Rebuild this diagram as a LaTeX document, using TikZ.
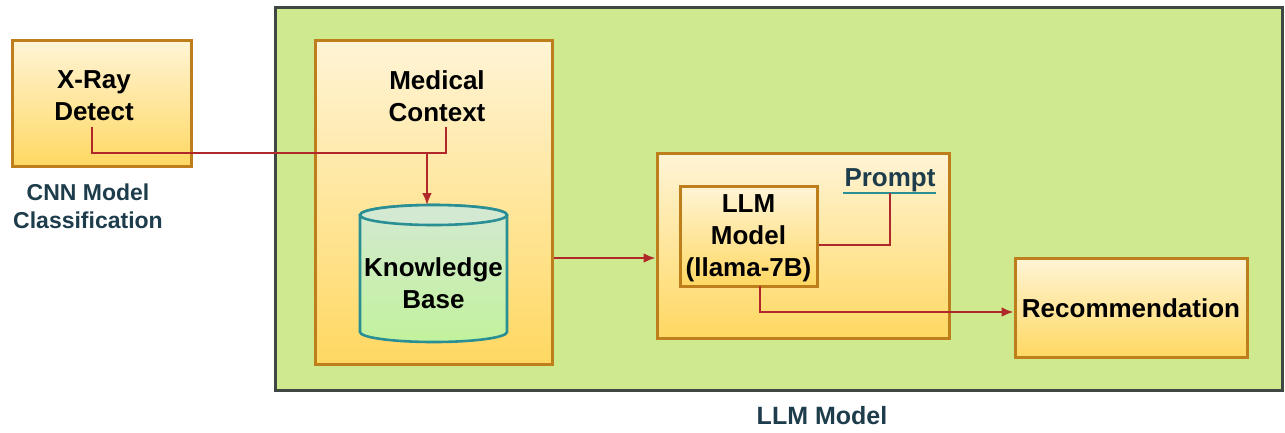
\documentclass[tikz,border=0pt]{standalone}
\usepackage{fontspec}
\setmainfont{Liberation Sans}
\usetikzlibrary{arrows.meta}
\definecolor{bgreen}{HTML}{CFE98E}
\definecolor{gborder}{HTML}{3F4644}
\definecolor{boxtop}{HTML}{FFF4D6}
\definecolor{boxbot}{HTML}{FFD862}
\definecolor{boxborder}{HTML}{BE7E1C}
\definecolor{conn}{HTML}{B0282A}
\definecolor{slate}{HTML}{1E3D4C}
\definecolor{teal}{HTML}{2A8F94}
\definecolor{cyltop}{HTML}{D3E9D2}
\definecolor{cylbot}{HTML}{C2F29C}
\definecolor{shadowc}{HTML}{B9B9A0}
\begin{document}
\begin{tikzpicture}[x=1pt,y=-1pt,
  box/.style={draw=boxborder,line width=3pt,top color=boxtop,bottom color=boxbot,inner sep=0pt},
  txt/.style={font=\fontsize{26}{32}\selectfont\bfseries,align=center,text=black},
  lbl/.style={font=\fontsize{23}{28}\selectfont\bfseries,align=center,text=slate},
  connline/.style={draw=conn,line width=2.6pt},
  arr/.style={connline,-{Latex[length=12pt,width=10pt]}}]
\useasboundingbox (0,0) rectangle (1285,432);
% green container
\node[draw=gborder,line width=3pt,fill=bgreen,minimum width=1007pt,minimum height=383pt,inner sep=0pt] (llmarea) at (778.5,198.5) {};
\node[lbl,font=\fontsize{25}{30}\selectfont\bfseries] (llmlabel) at (822,416) {LLM Model};
% X-ray
\node[box,minimum width=179pt,minimum height=126pt] (xray) at (101.5,103) {};
\node[txt] (xraytxt) at (94,96) {X-Ray\\Detect};
\node[lbl] (cnnlabel) at (88,206) {CNN Model\\Classification};
% Medical context
\node[box,minimum width=237pt,minimum height=324pt] (medical) at (433.5,202) {};
\node[txt] (medtxt) at (437,96) {Medical\\Context};
% Knowledge base cylinder
\shade[top color=cyltop,bottom color=cylbot,draw=teal,line width=2.6pt]
  (360,215) -- (360,332) arc[start angle=180,end angle=0,x radius=73.5,y radius=10]
  -- (507,215) arc[start angle=0,end angle=-180,x radius=73.5,y radius=10] -- cycle;
\draw[teal,line width=2.6pt,fill=cyltop] (433.5,215) ellipse[x radius=73.5,y radius=10];
\node[txt] (kb) at (433.5,283) {Knowledge\\Base};
\coordinate (kbtop) at (427,205);
% LLM outer
\node[box,minimum width=292pt,minimum height=185pt] (llmouter) at (803,245.5) {};
\node[box,minimum width=137pt,minimum height=100pt] (llminner) at (748.5,236) {};
\node[txt] (llmtxt) at (748.5,238) {LLM\\Model\\(llama-7B)};
\node[font=\fontsize{26}{32}\selectfont\bfseries,text=slate,inner sep=0pt] (prompt) at (890,180) {Prompt};
\draw[teal,line width=2.8pt] (843,193) -- (936,193) coordinate[pos=0.505] (promptline);
% Recommendation
\node[box,minimum width=232pt,minimum height=99pt] (rec) at (1131,307.5) {};
\node[txt] (rectxt) at (1131,308) {Recommendation};
% connectors
\coordinate (xs) at (92,127);
\coordinate (ms) at (446,127);
\coordinate (j) at (427,153);
\draw[connline] (xs) |- (ms |- j) -- (ms);
\draw[arr] (j) -- (kbtop);
\draw[arr] (medical.east |- 0,258) -- (llmouter.west |- 0,258);
\draw[connline] (llminner.east |- 0,245) -| (promptline);
\draw[arr] (760,286) |- (rec.west |- 0,312);
\end{tikzpicture}
\end{document}
